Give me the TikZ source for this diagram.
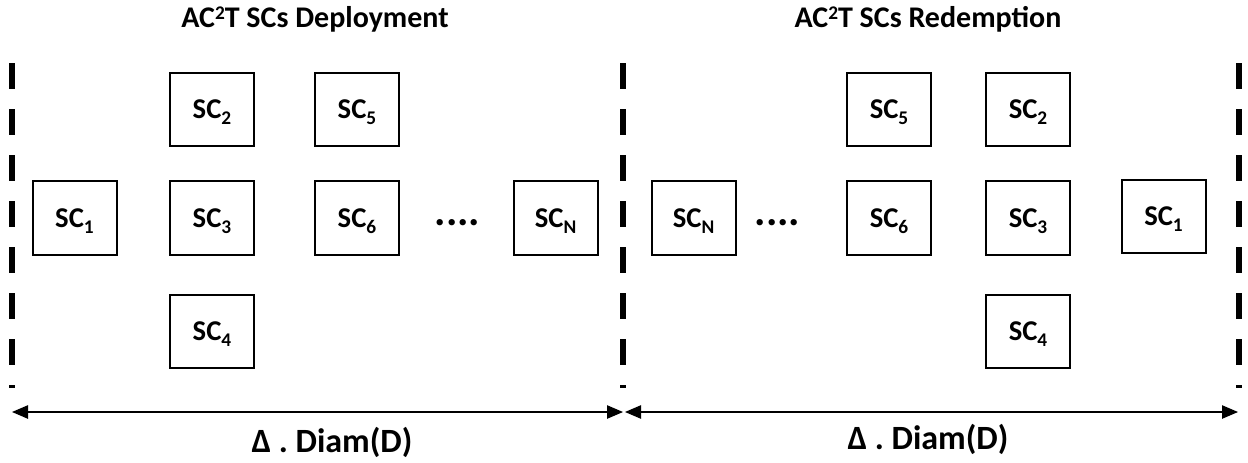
\documentclass[tikz,border=0pt]{standalone}
\usepackage{fontspec}
\setmainfont{Carlito}
\usetikzlibrary{arrows.meta}
\newcommand\subs[1]{\raisebox{-4.5pt}[0pt][0pt]{\fontsize{14.5}{16}\selectfont #1}}
\newcommand\supr[1]{\raisebox{6pt}{\fontsize{14.5}{16}\selectfont #1}}
\tikzset{
  scbox/.style={draw, line width=1.5pt, minimum width=63pt, minimum height=55pt, inner sep=0pt,
    font=\fontsize{21.5}{25}\selectfont\bfseries},
  title/.style={anchor=base, font=\fontsize{22.5}{27}\selectfont\bfseries},
  diam/.style={anchor=base, font=\fontsize{25.5}{30}\selectfont\bfseries},
  dots/.style={anchor=base, inner sep=0pt, font=\fontsize{32}{36}\selectfont\bfseries},
  divider/.style={line width=4.5pt, dash pattern=on 19.5pt off 15pt},
  span/.style={line width=1pt, {Triangle[length=12pt,width=10pt]}-{Triangle[length=12pt,width=10pt]}}
}
\begin{document}
\begin{tikzpicture}[x=0.75pt,y=-0.75pt]
\useasboundingbox (0,0) rectangle (1248,462);
% titles
\node[title] (t1) at (315,27) {AC\supr{2}T SCs Deployment};
\node[title] (t2) at (928,27) {AC\supr{2}T SCs Redemption};
% dividers
\coordinate (d1t) at (11.5,63); \coordinate (d1b) at (11.5,388);
\coordinate (d2t) at (623,63);  \coordinate (d2b) at (623,388);
\coordinate (d3t) at (1238.5,63); \coordinate (d3b) at (1238.5,388);
\draw[divider] (d1t) -- (d1b);
\draw[divider] (d2t) -- (d2b);
\draw[divider] (d3t) -- (d3b);
% left group
\node[scbox] (l1) at (74.5,218) {SC\subs{1}};
\node[scbox] (l2) at (212,109.5) {SC\subs{2}};
\node[scbox] (l3) at (212,218) {SC\subs{3}};
\node[scbox] (l4) at (212,331.5) {SC\subs{4}};
\node[scbox] (l5) at (357,109.5) {SC\subs{5}};
\node[scbox] (l6) at (357,218) {SC\subs{6}};
\node[dots] (ldots) at (457.5,225) {....};
\node[scbox] (lN) at (555.5,218) {SC\subs{N}};
% right group
\node[scbox] (rN) at (693.5,218) {SC\subs{N}};
\node[dots] (rdots) at (777.5,225) {....};
\node[scbox] (r5) at (889,109.5) {SC\subs{5}};
\node[scbox] (r6) at (889,218) {SC\subs{6}};
\node[scbox] (r2) at (1028,109.5) {SC\subs{2}};
\node[scbox] (r3) at (1028,218) {SC\subs{3}};
\node[scbox] (r4) at (1028,331.5) {SC\subs{4}};
\node[scbox] (r1) at (1163.5,216.5) {SC\subs{1}};
% spans
\coordinate (a1l) at (12,412); \coordinate (a1r) at (623,412);
\coordinate (a2l) at (625,412); \coordinate (a2r) at (1238,412);
\draw[span] (a1l) -- (a1r);
\draw[span] (a2l) -- (a2r);
\node[diam] (m1) at (332,452) {Δ . Diam(D)};
\node[diam] (m2) at (928,449) {Δ . Diam(D)};
\end{tikzpicture}
\end{document}
